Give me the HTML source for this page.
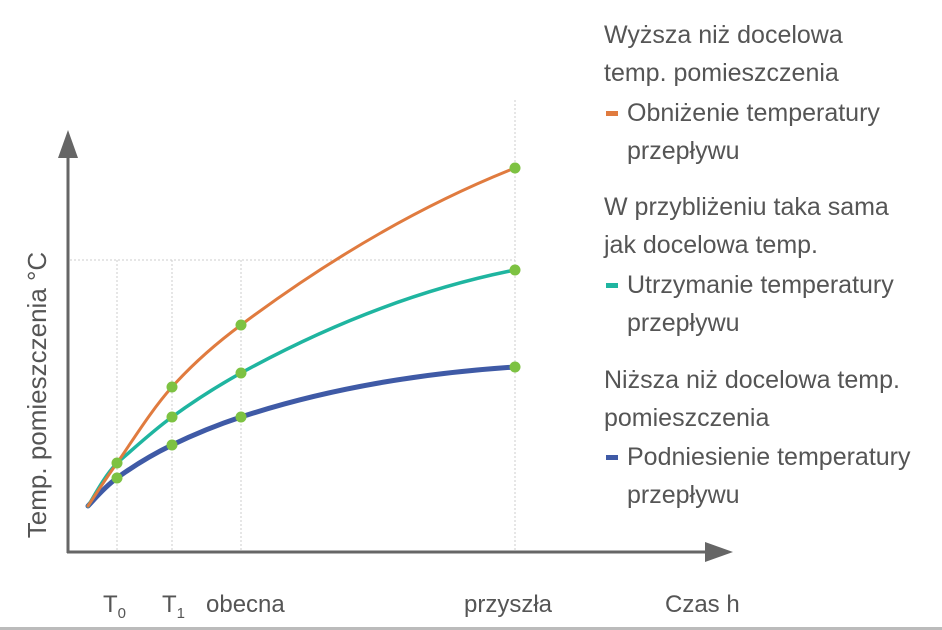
<!DOCTYPE html>
<html><head><meta charset="utf-8"><style>
html,body{margin:0;padding:0;background:#fff;}
svg{display:block;font-family:"Liberation Sans",sans-serif;}
</style></head><body>
<svg width="942" height="630" viewBox="0 0 942 630" xmlns="http://www.w3.org/2000/svg">
<rect width="942" height="630" fill="#fff"/>
<g stroke="#ccc" stroke-width="1" stroke-dasharray="2,2" fill="none">
<line x1="70" y1="260" x2="515" y2="260"/>
<line x1="117" y1="260" x2="117" y2="552"/>
<line x1="172" y1="260" x2="172" y2="552"/>
<line x1="241" y1="260" x2="241" y2="552"/>
<line x1="515" y1="100" x2="515" y2="552"/>
</g>
<g stroke="#666" stroke-width="3" fill="none">
<line x1="68" y1="150" x2="68" y2="553"/>
<line x1="67" y1="552" x2="710" y2="552"/>
</g>
<polygon points="68,130 58,158 78,158" fill="#666"/>
<polygon points="733,552 705,542 705,562" fill="#666"/>
<path d="M88,506 C92.8,501.3 103,488.2 117,478 C131,467.8 151.3,455 172,445 C192.7,435 218,424.6 241,417 C332,387 424,373 515,367" stroke="#3f5aa6" stroke-width="5" fill="none" stroke-linecap="round"/>
<path d="M88,506 C92.8,498.8 103,477.8 117,463 C131,451.2 151.3,432 172,417 C192.7,402 218,385.7 241,373 C332,323 424,288 515,270" stroke="#1fb5a0" stroke-width="3.5" fill="none" stroke-linecap="round"/>
<path d="M88,506 C92.8,498.8 103,482.8 117,463 C131,443.2 151.3,410 172,387 C192.7,364 218,342 241,325 C332,257 424,204 515,168" stroke="#e07b3f" stroke-width="3" fill="none" stroke-linecap="round"/>
<g fill="#7dc242">
<circle cx="117" cy="463" r="5.5"/><circle cx="117" cy="478" r="5.5"/>
<circle cx="172" cy="387" r="5.5"/><circle cx="172" cy="417" r="5.5"/><circle cx="172" cy="445" r="5.5"/>
<circle cx="241" cy="325" r="5.5"/><circle cx="241" cy="373" r="5.5"/><circle cx="241" cy="417" r="5.5"/>
<circle cx="515" cy="168" r="5.5"/><circle cx="515" cy="270" r="5.5"/><circle cx="515" cy="367" r="5.5"/>
</g>
<g fill="#555" font-size="24">
<text transform="translate(46,395) rotate(-90)" text-anchor="middle" font-size="26">Temp. pomieszczenia °C</text>
<text x="103" y="612">T<tspan font-size="15" dy="6">0</tspan></text>
<text x="162" y="612">T<tspan font-size="15" dy="6">1</tspan></text>
<text x="206" y="612">obecna</text>
<text x="464" y="612">przyszła</text>
<text x="665" y="612">Czas h</text>
</g>
<g fill="#555" font-size="25">
<text x="604" y="43">Wyższa niż docelowa</text>
<text x="604" y="81">temp. pomieszczenia</text>
<text x="627" y="121">Obniżenie temperatury</text>
<text x="627" y="159">przepływu</text>
<text x="604" y="215">W przybliżeniu taka sama</text>
<text x="604" y="253">jak docelowa temp.</text>
<text x="627" y="293">Utrzymanie temperatury</text>
<text x="627" y="331">przepływu</text>
<text x="604" y="388">Niższa niż docelowa temp.</text>
<text x="604" y="426">pomieszczenia</text>
<text x="627" y="465">Podniesienie temperatury</text>
<text x="627" y="503">przepływu</text>
</g>
<rect x="606" y="111" width="12" height="5" fill="#e07b3f"/>
<rect x="606" y="283" width="12" height="5" fill="#1fb5a0"/>
<rect x="606" y="455" width="12" height="5" fill="#3f5aa6"/>
<rect x="0" y="627" width="942" height="3" fill="#bbb"/>
</svg>
</body></html>
